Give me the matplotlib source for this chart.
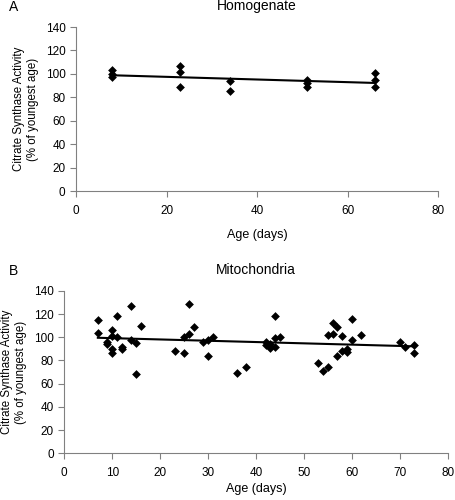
import numpy as np
import matplotlib
matplotlib.use("Agg")
import matplotlib.pyplot as plt

plt.rcParams["font.family"] = ["Liberation Sans", "DejaVu Sans"]

# Panel A: homogenate
homog_age = [8, 8, 8, 23, 23, 23, 34, 34, 51, 51, 51, 66, 66, 66]
homog_val = [103, 100, 97, 107, 102, 89, 94, 85, 95, 92, 89, 101, 95, 89]

# Panel B: mitochondria
mito_age = [7, 7, 9, 9, 10, 10, 10, 10, 11, 11, 12, 12, 14, 14, 15, 15, 16,
            23, 25, 25, 26, 26, 27, 29, 30, 30, 31, 36, 38,
            44, 42, 42, 43, 43, 44, 44, 45,
            53, 54, 55, 55, 56, 56, 57, 57, 58, 58, 59, 59, 60, 60, 62,
            70, 71, 73, 73]
mito_val = [115, 104, 96, 94, 106, 101, 90, 86, 118, 100, 92, 90, 127, 98, 95, 68, 110,
            88, 86, 100, 103, 129, 109, 96, 98, 84, 100, 69, 74,
            118, 96, 93, 91, 94, 99, 92, 100,
            78, 71, 74, 102, 112, 103, 109, 84, 101, 88, 90, 87, 116, 98, 102,
            96, 92, 93, 86]

GRAY = "#808080"


def panel(ax, ages, vals, xticks, title, letter, letter_x, xlabel_pad):
    ages = np.asarray(ages, float)
    vals = np.asarray(vals, float)
    ax.scatter(ages, vals, marker="D", s=20, color="black", zorder=3, linewidths=0)
    slope, icpt = np.polyfit(ages, vals, 1)
    xs = np.array([ages.min(), ages.max()])
    ax.plot(xs, slope * xs + icpt, color="black", lw=1.5, zorder=2)
    ax.set_xlim(0, 80)
    ax.set_ylim(0, 140)
    ax.set_xticks(xticks)
    ax.set_yticks(range(0, 141, 20))
    for s in ("top", "right"):
        ax.spines[s].set_visible(False)
    for s in ("left", "bottom"):
        ax.spines[s].set_color(GRAY)
        ax.spines[s].set_linewidth(0.8)
    ax.tick_params(colors=GRAY, labelcolor="black", labelsize=8.5, length=4, width=0.8)
    ax.tick_params(axis="x", pad=6)
    ax.set_xlabel("Age (days)", fontsize=9, labelpad=xlabel_pad)
    ax.set_ylabel("Citrate Synthase Activity\n(% of youngest age)", fontsize=8.3,
                  labelpad=5)
    ax.set_title(title, fontsize=10, pad=12)
    ax.text(letter_x, 1.08, letter, transform=ax.transAxes,
            fontsize=10, ha="left", va="bottom")


fig = plt.figure(figsize=(4.55, 5.0), dpi=100)
ax1 = fig.add_axes([0.167, 0.618, 0.796, 0.328])
ax2 = fig.add_axes([0.1413, 0.0934, 0.8426, 0.325])
panel(ax1, homog_age, homog_val, range(0, 81, 20), "Homogenate", "A", -0.185, 9)
panel(ax2, mito_age, mito_val, range(0, 81, 10), "Mitochondria", "B", -0.145, 3)

fig.savefig("out.png", dpi=100)
